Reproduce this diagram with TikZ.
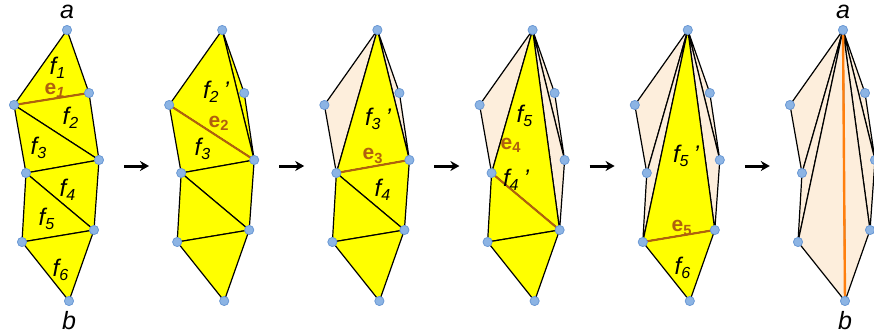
\documentclass[tikz,border=0pt]{standalone}
\usepackage{fontspec}
\setmainfont{Liberation Sans}
\usetikzlibrary{arrows.meta,positioning}

\begin{document}
\begin{tikzpicture}[x=0.5pt, y=-0.5pt, line join=round]
    % --- Colores ---
    \definecolor{faceyellow}{HTML}{FFFF00}
    \definecolor{facedone}{HTML}{FDEEDC}
    \definecolor{flipbrown}{HTML}{B0600E}
    \definecolor{pathorange}{HTML}{FF7F0E}
    \definecolor{vtxblue}{HTML}{8CB4E4}
    \definecolor{vtxedge}{HTML}{6A98D4}

    % --- Estilos ---
    \tikzset{
        face/.style={fill=faceyellow, draw=black, line width=0.6pt},
        oldface/.style={fill=facedone, draw=black, line width=0.6pt},
        flipedge/.style={draw=flipbrown, line width=1pt},
        vtx/.style={circle, fill=vtxblue, draw=vtxedge, line width=0.4pt, inner sep=0pt, minimum size=4.6pt},
        vlabel/.style={inner sep=0pt, font=\fontsize{12.5}{14}\selectfont\itshape},
        flabel/.style={inner sep=1pt, font=\fontsize{12}{14}\selectfont\itshape},
        elabel/.style={inner sep=1pt, text=flipbrown, font=\fontsize{10.5}{12}\selectfont\bfseries},
        stepar/.style={-{Stealth[length=4.5pt, width=5pt]}, line width=1.5pt}
    }
    \newcommand{\fl}[2]{f\textsubscript{#1}#2}
    \newcommand{\el}[1]{e\textsubscript{#1}}

    \useasboundingbox (0,0) rectangle (874,332);
    \clip (0,0) rectangle (874,332);

    % --- Vértices de las seis etapas ---
    \foreach \k in {0,...,5} {
        \foreach \n/\x/\y in {a/0/0, p1/22/63, p2/-53/75, p3/32/130,
                              p4/-41/143, p5/27/200, p6/-45/212, b/2/271}
            \coordinate (\n-\k) at ({67+155.2*\k+\x}, {30+\y});
    }

    % --- Etapa 1 ---
    \foreach \u/\v/\w in {a/p1/p2, p2/p1/p3, p2/p3/p4, p4/p3/p5, p4/p5/p6, p6/p5/b}
        \draw[face] (\u-0) -- (\v-0) -- (\w-0) -- cycle;
    \draw[flipedge] (p2-0) -- (p1-0);

    % --- Etapa 2 ---
    \foreach \u/\v/\w in {a/p1/p3, a/p2/p3, p2/p3/p4, p4/p3/p5, p4/p5/p6, p6/p5/b}
        \draw[face] (\u-1) -- (\v-1) -- (\w-1) -- cycle;
    \draw[flipedge] (p2-1) -- (p3-1);

    % --- Etapa 3 ---
    \foreach \u/\v/\w in {a/p1/p3, a/p2/p4}
        \draw[oldface] (\u-2) -- (\v-2) -- (\w-2) -- cycle;
    \foreach \u/\v/\w in {a/p4/p3, p4/p3/p5, p4/p5/p6, p6/p5/b}
        \draw[face] (\u-2) -- (\v-2) -- (\w-2) -- cycle;
    \draw[flipedge] (p4-2) -- (p3-2);

    % --- Etapa 4 ---
    \foreach \u/\v/\w in {a/p1/p3, a/p3/p5, a/p2/p4}
        \draw[oldface] (\u-3) -- (\v-3) -- (\w-3) -- cycle;
    \foreach \u/\v/\w in {a/p4/p5, p4/p5/p6, p6/p5/b}
        \draw[face] (\u-3) -- (\v-3) -- (\w-3) -- cycle;
    \draw[flipedge] (p4-3) -- (p5-3);

    % --- Etapa 5 ---
    \foreach \u/\v/\w in {a/p1/p3, a/p3/p5, a/p2/p4, a/p4/p6}
        \draw[oldface] (\u-4) -- (\v-4) -- (\w-4) -- cycle;
    \foreach \u/\v/\w in {a/p6/p5, p6/p5/b}
        \draw[face] (\u-4) -- (\v-4) -- (\w-4) -- cycle;
    \draw[flipedge] (p6-4) -- (p5-4);

    % --- Etapa 6 ---
    \foreach \u/\v/\w in {a/p1/p3, a/p3/p5, a/p5/b, a/p2/p4, a/p4/p6, a/p6/b}
        \draw[oldface] (\u-5) -- (\v-5) -- (\w-5) -- cycle;
    \draw[pathorange, line width=1.2pt] (a-5) -- (b-5);

    % --- Vértices ---
    \foreach \k in {0,...,5}
        \foreach \n in {a,p1,p2,p3,p4,p5,p6,b}
            \node[vtx] (v\n-\k) at (\n-\k) {};

    \node[vlabel, above=5.5pt of a-0] (top-0) {a};
    \node[vlabel, below=5pt of b-0] (bot-0) {b};
    \node[vlabel, above=5.5pt of a-5] (top-5) {a};
    \node[vlabel, below=5pt of b-5] (bot-5) {b};

    % --- Etiquetas de caras y aristas ---
    \node[flabel] (lf1) at (58,68) {\fl{1}{}};
    \node[elabel] (le1) at (55,90) {e\textsubscript{\itshape 1}};
    \node[flabel] (lf2) at (71,118) {\fl{2}{}};
    \node[flabel] (lf3) at (39,148) {\fl{3}{}};
    \node[flabel] (lf4) at (68,190) {\fl{4}{}};
    \node[flabel] (lf5) at (47,219) {\fl{5}{}};
    \node[flabel] (lf6) at (61,270) {\fl{6}{}};

    \node[flabel] (lf2b) at (216,92) {\fl{2}{\,’}};
    \node[elabel] (le2) at (219,123) {\el{2}};
    \node[flabel] (lf3b) at (203,149) {\fl{3}{}};

    \node[flabel] (lf3c) at (378,119) {\fl{3}{\,’}};
    \node[elabel] (le3) at (373,156) {\el{3}};
    \node[flabel] (lf4c) at (383,190) {\fl{4}{}};

    \node[flabel] (lf5d) at (525,116) {\fl{5}{}};
    \node[elabel] (le4) at (511,145) {\el{4}};
    \node[flabel] (lf4d) at (516,180) {\fl{4}{\,’}};

    \node[flabel] (lf5e) at (686,156) {\fl{5}{\,’}};
    \node[elabel] (le5) at (682,228) {\el{5}};
    \node[flabel] (lf6e) at (683,268) {\fl{6}{}};

    % --- Flechas entre etapas ---
    \foreach \k in {0,...,4} {
        \coordinate (st-\k) at ({124+155.2*\k}, 166);
        \coordinate (en-\k) at ({149+155.2*\k}, 166);
        \draw[stepar] (st-\k) -- (en-\k);
    }
\end{tikzpicture}
\end{document}
